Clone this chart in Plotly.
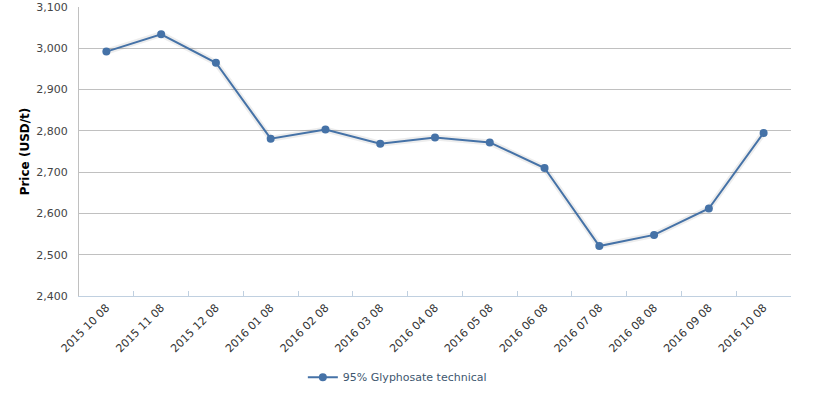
import plotly.graph_objects as go

categories = ["2015 10 08", "2015 11 08", "2015 12 08", "2016 01 08", "2016 02 08",
              "2016 03 08", "2016 04 08", "2016 05 08", "2016 06 08", "2016 07 08",
              "2016 08 08", "2016 09 08", "2016 10 08"]
prices = [2992, 3034, 2965, 2781, 2803, 2769, 2784, 2772, 2710, 2521, 2548, 2612, 2795]
series_name = "95% Glyphosate technical"
y_ticks = [2400, 2500, 2600, 2700, 2800, 2900, 3000, 3100]

FONT = "DejaVu Sans"
COLOR = "#4572A7"

fig = go.Figure()
# soft shadow under the line
fig.add_trace(go.Scatter(x=categories, y=prices, mode="lines",
                         line=dict(color="rgba(0,0,0,0.07)", width=6),
                         hoverinfo="skip", showlegend=False))
fig.add_trace(go.Scatter(x=categories, y=prices, mode="lines+markers", name=series_name,
                         line=dict(color=COLOR, width=2),
                         marker=dict(color=COLOR, size=8)))

fig.update_layout(
    width=833, height=397,
    margin=dict(l=79, r=42, t=7, b=101, autoexpand=False),
    plot_bgcolor="white", paper_bgcolor="white",
    font=dict(family=FONT, size=11, color="#444444"),
    showlegend=True,
    legend=dict(orientation="h", x=0.477, xref="container", xanchor="center",
                y=0.05, yref="container", yanchor="middle",
                font=dict(family=FONT, size=11, color="#3E576F"),
                itemwidth=30),
    xaxis=dict(type="category", range=[-0.5, 12.5], tickson="boundaries",
               ticks="inside", ticklen=5, tickcolor="#C0D0E0", automargin=False,
               showline=True, linecolor="#C0D0E0", linewidth=1,
               showgrid=False, tickangle=-45, tickfont=dict(size=11, color="#333333")),
    yaxis=dict(range=[2400, 3100], tickvals=y_ticks, tickformat=",d", automargin=False,
               showgrid=True, gridcolor="#C0C0C0", gridwidth=1,
               showline=True, linecolor="#C0C0C0", linewidth=1,
               zeroline=False, ticks="", ticklabelstandoff=8,
               tickfont=dict(size=11, color="#444444"),
               title=dict(text="<b>Price (USD/t)</b>", standoff=4,
                          font=dict(size=12, color="#000000"))),
)

fig.write_html("out.html", config={"displayModeBar": False},
               post_script="document.body.style.margin='0';")
